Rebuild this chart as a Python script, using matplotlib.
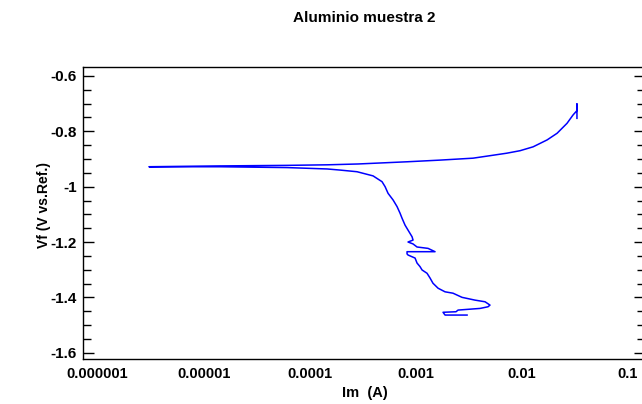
import matplotlib
matplotlib.use("Agg")
import matplotlib.pyplot as plt
from matplotlib.ticker import FixedLocator, FixedFormatter, NullLocator, MultipleLocator

plt.rcParams['font.family'] = ['Liberation Sans', 'DejaVu Sans']

title = "Aluminio muestra 2"
xlabel = "Im  (A)"
ylabel = "Vf (V vs.Ref.)"

# Cathodic branch (scan start at most negative potential, up to Ecorr)
cath_I = [3.04e-3, 1.885e-3, 1.805e-3, 2.39e-3, 2.50e-3, 4.03e-3, 4.79e-3, 5.00e-3,
          4.49e-3, 3.61e-3, 2.725e-3, 2.24e-3, 1.885e-3, 1.62e-3, 1.45e-3, 1.36e-3,
          1.275e-3, 1.144e-3, 1.095e-3, 1.026e-3, 9.83e-4, 8.44e-4, 8.26e-4, 8.26e-4,
          1.517e-3, 1.303e-3, 1.026e-3, 9.41e-4, 8.44e-4, 9.41e-4, 9.21e-4, 8.44e-4,
          7.91e-4, 7.41e-4, 7.10e-4, 6.65e-4, 6.10e-4, 5.47e-4, 5.13e-4, 4.80e-4,
          3.95e-4, 2.79e-4, 1.93e-4, 1.46e-4, 6.1e-5, 1.43e-5, 3.05e-6]
cath_V = [-1.464, -1.464, -1.454, -1.452, -1.446, -1.440, -1.434, -1.428,
          -1.416, -1.410, -1.400, -1.385, -1.380, -1.367, -1.349, -1.330,
          -1.313, -1.301, -1.289, -1.276, -1.258, -1.247, -1.243, -1.235,
          -1.235, -1.223, -1.218, -1.207, -1.200, -1.193, -1.181, -1.157,
          -1.139, -1.114, -1.096, -1.072, -1.048, -1.024, -1.000, -0.982,
          -0.961, -0.946, -0.940, -0.936, -0.931, -0.928, -0.928]

# Anodic branch (from Ecorr to end of scan)
anod_I = [3.05e-6, 1.43e-5, 6.1e-5, 1.46e-4, 2.85e-4, 8.3e-4, 1.69e-3, 3.46e-3,
          5.0e-3, 7.2e-3, 9.6e-3, 0.01274, 0.01727, 0.02144, 0.0266, 0.0303,
          0.033, 0.033, 0.033]
anod_V = [-0.928, -0.925, -0.923, -0.921, -0.918, -0.910, -0.904, -0.897,
          -0.888, -0.879, -0.870, -0.856, -0.831, -0.807, -0.771, -0.741,
          -0.725, -0.701, -0.753]

xtick_vals = [1e-6, 1e-5, 1e-4, 1e-3, 1e-2, 1e-1]
xtick_labels = ["0.000001", "0.00001", "0.0001", "0.001", "0.01", "0.1"]
ytick_vals = [-0.6, -0.8, -1.0, -1.2, -1.4, -1.6]
ytick_labels = ["-0.6", "-0.8", "-1", "-1.2", "-1.4", "-1.6"]

W, H = 642, 404
fig = plt.figure(figsize=(W / 100, H / 100), dpi=100)
ax = fig.add_axes([83 / W, 1 - 359 / H, (645 - 83) / W, (359 - 67) / H])

ax.plot(cath_I + anod_I[1:], cath_V + anod_V[1:], color='#0000ff', lw=1.1)

ax.set_xscale('log')
ax.set_xlim(7.29e-7, 0.1445)
ax.set_ylim(-1.6228, -0.5675)

ax.xaxis.set_major_locator(FixedLocator(xtick_vals))
ax.xaxis.set_major_formatter(FixedFormatter(xtick_labels))
ax.xaxis.set_minor_locator(NullLocator())
ax.yaxis.set_major_locator(FixedLocator(ytick_vals))
ax.yaxis.set_major_formatter(FixedFormatter(ytick_labels))
ax.yaxis.set_minor_locator(MultipleLocator(0.05))

ax.tick_params(axis='x', which='both', length=0, pad=5.8, labelsize=10.5)
ax.tick_params(axis='y', which='major', direction='in', left=True, right=True,
               length=7.9, width=1.0, pad=4.3, labelsize=11)
ax.tick_params(axis='y', which='minor', direction='in', left=True, right=True,
               length=5.8, width=1.0)
for lab in ax.get_xticklabels() + ax.get_yticklabels():
    lab.set_fontweight('bold')

for s in ax.spines.values():
    s.set_linewidth(1.0)

ax.set_xlabel(xlabel, fontsize=10.5, fontweight='bold')
ax.xaxis.label.set_va('center')
ax.xaxis.set_label_coords((364.5 - 83) / (645 - 83), (359 - 393) / (359 - 67))
ax.set_ylabel(ylabel, fontsize=10, fontweight='bold')
ax.yaxis.label.set_va('center')
ax.yaxis.set_label_coords((44 - 83) / (645 - 83), (359 - 205) / (359 - 67))

fig.text(364 / W, 1 - 18 / H, title, ha='center', va='center',
         fontsize=11, fontweight='bold')

fig.savefig('out.png', dpi=100)
